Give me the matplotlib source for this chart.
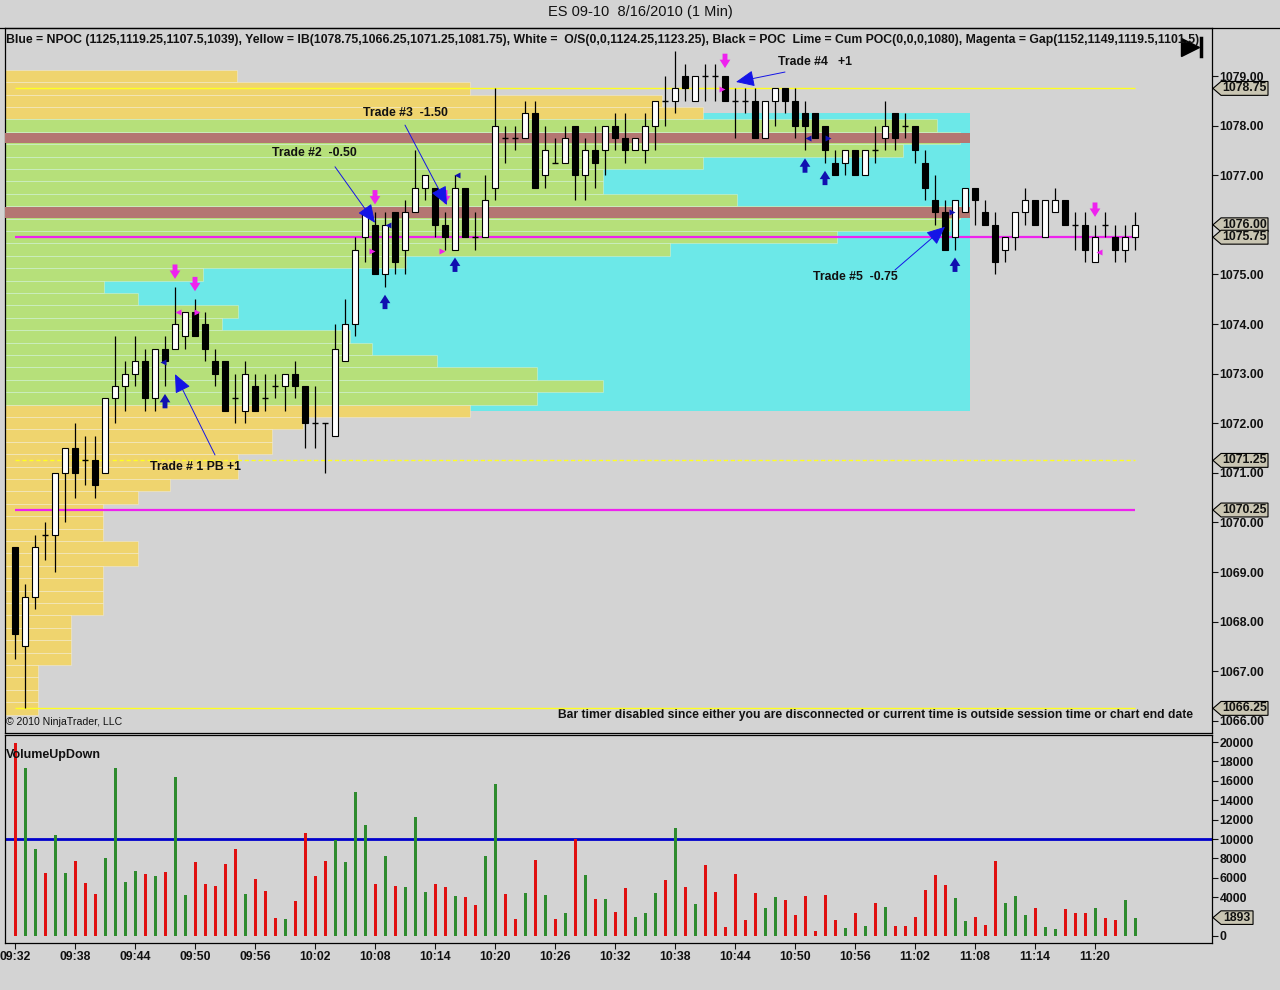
import numpy as np
import pandas as pd
import matplotlib
matplotlib.use("Agg")
import matplotlib.pyplot as plt
from matplotlib.patches import Polygon, Rectangle
from matplotlib.transforms import blended_transform_factory

plt.rcParams['font.family'] = ['Liberation Sans', 'DejaVu Sans']

# ---- 1 minute bars, 09:32 .. 11:24 ----
opens = [1069.5, 1067.5, 1068.5, 1069.75, 1069.75, 1071.0, 1071.5, 1071.25, 1071.25, 1071.0,
         1072.5, 1072.75, 1073.0, 1073.25, 1072.5, 1073.5, 1073.5, 1073.75, 1074.25, 1074.0,
         1073.25, 1073.25, 1072.5, 1072.25, 1072.75, 1072.5, 1072.75, 1072.75, 1073.0, 1072.75,
         1072.0, 1072.0, 1071.75, 1073.25, 1074.0, 1075.75, 1076.0, 1075.0, 1076.25, 1075.5,
         1076.25, 1076.75, 1076.75, 1076.0, 1075.5, 1076.75, 1075.75, 1075.75, 1076.75, 1077.75,
         1077.75, 1077.75, 1078.25, 1077.0, 1077.25, 1077.25, 1078.0, 1077.0, 1077.5, 1077.5,
         1078.0, 1077.75, 1077.5, 1077.5, 1078.0, 1078.5, 1078.5, 1079.0, 1078.5, 1079.0,
         1079.0, 1079.0, 1078.5, 1078.5, 1078.5, 1077.75, 1078.5, 1078.75, 1078.5, 1078.25,
         1078.25, 1078.0, 1077.25, 1077.25, 1077.5, 1077.0, 1077.5, 1077.75, 1078.25, 1078.0,
         1078.0, 1077.25, 1076.5, 1076.25, 1075.75, 1076.25, 1076.75, 1076.25, 1076.0, 1075.5,
         1075.75, 1076.25, 1076.5, 1075.75, 1076.25, 1076.5, 1076.0, 1076.0, 1075.25, 1076.0,
         1075.75, 1075.5, 1075.75]
highs = [1069.5, 1068.75, 1069.75, 1070.0, 1071.0, 1071.5, 1072.0, 1071.75, 1071.75, 1072.5,
         1073.75, 1073.25, 1073.75, 1073.5, 1073.5, 1073.75, 1074.75, 1074.25, 1074.5, 1074.25,
         1073.5, 1073.25, 1073.0, 1073.25, 1073.0, 1073.0, 1073.0, 1073.0, 1073.25, 1072.75,
         1072.75, 1072.0, 1074.0, 1074.5, 1075.75, 1076.25, 1076.25, 1076.25, 1076.25, 1076.5,
         1077.5, 1077.0, 1076.75, 1076.25, 1077.0, 1076.75, 1076.25, 1077.0, 1078.75, 1078.0,
         1078.0, 1078.5, 1078.5, 1078.0, 1077.75, 1078.0, 1078.0, 1077.75, 1078.0, 1078.0,
         1078.25, 1078.25, 1077.75, 1078.25, 1078.5, 1079.0, 1079.5, 1079.25, 1079.0, 1079.25,
         1079.25, 1079.0, 1078.75, 1078.75, 1078.75, 1078.5, 1078.75, 1078.75, 1078.75, 1078.5,
         1078.25, 1078.0, 1077.5, 1077.5, 1077.5, 1077.5, 1078.0, 1078.5, 1078.25, 1078.25,
         1078.0, 1077.5, 1077.0, 1076.5, 1076.5, 1076.75, 1076.75, 1076.5, 1076.25, 1075.75,
         1076.25, 1076.75, 1076.5, 1076.5, 1076.75, 1076.5, 1076.25, 1076.25, 1076.0, 1076.25,
         1076.0, 1076.0, 1076.25]
lows = [1067.25, 1066.25, 1068.25, 1069.25, 1069.0, 1070.0, 1070.5, 1070.75, 1070.5, 1071.0,
        1072.0, 1072.25, 1072.75, 1072.25, 1072.25, 1072.75, 1073.5, 1073.5, 1073.75, 1073.25,
        1072.75, 1072.25, 1072.0, 1072.0, 1072.25, 1072.25, 1072.5, 1072.25, 1072.5, 1071.5,
        1071.5, 1071.0, 1071.75, 1073.25, 1073.75, 1075.25, 1075.0, 1074.75, 1075.0, 1075.0,
        1076.25, 1076.5, 1075.75, 1075.5, 1075.5, 1075.75, 1075.5, 1075.75, 1076.5, 1077.25,
        1077.5, 1077.75, 1076.75, 1076.75, 1077.25, 1077.25, 1076.5, 1076.5, 1076.75, 1077.0,
        1077.5, 1077.25, 1077.5, 1077.25, 1077.5, 1078.0, 1078.25, 1078.5, 1078.5, 1078.5,
        1078.5, 1078.5, 1077.75, 1078.25, 1077.75, 1077.75, 1078.0, 1078.25, 1077.75, 1077.5,
        1077.75, 1077.25, 1077.0, 1077.0, 1077.0, 1077.0, 1077.25, 1077.5, 1077.5, 1077.75,
        1077.25, 1076.5, 1076.0, 1075.5, 1075.5, 1076.25, 1076.0, 1076.0, 1075.0, 1075.25,
        1075.5, 1076.0, 1076.0, 1075.75, 1076.25, 1076.0, 1075.5, 1075.25, 1075.25, 1075.75,
        1075.25, 1075.25, 1075.5]
closes = [1067.75, 1068.5, 1069.5, 1069.75, 1071.0, 1071.5, 1071.0, 1071.25, 1070.75, 1072.5,
          1072.75, 1073.0, 1073.25, 1072.5, 1073.5, 1073.25, 1074.0, 1074.25, 1073.75, 1073.5,
          1073.0, 1072.25, 1072.5, 1073.0, 1072.25, 1072.5, 1072.75, 1073.0, 1072.75, 1072.0,
          1072.0, 1072.0, 1073.5, 1074.0, 1075.5, 1076.25, 1075.0, 1076.0, 1075.25, 1076.25,
          1076.75, 1077.0, 1076.0, 1075.75, 1076.75, 1075.75, 1075.75, 1076.5, 1078.0, 1077.75,
          1077.75, 1078.25, 1076.75, 1077.5, 1077.25, 1077.75, 1077.0, 1077.5, 1077.25, 1078.0,
          1077.75, 1077.5, 1077.75, 1078.0, 1078.5, 1078.5, 1078.75, 1078.75, 1079.0, 1079.0,
          1079.0, 1078.5, 1078.5, 1078.5, 1077.75, 1078.5, 1078.75, 1078.5, 1078.0, 1078.0,
          1077.75, 1077.5, 1077.0, 1077.5, 1077.0, 1077.5, 1077.5, 1078.0, 1077.75, 1078.0,
          1077.5, 1076.75, 1076.25, 1075.5, 1076.5, 1076.75, 1076.5, 1076.0, 1075.25, 1075.75,
          1076.25, 1076.5, 1076.0, 1076.5, 1076.5, 1076.0, 1076.0, 1075.5, 1075.75, 1076.0,
          1075.5, 1075.75, 1076.0]
volumes = [19900, 17300, 8970, 6500, 10400, 6500, 7770, 5500, 4360, 8040,
           17300, 5570, 6700, 6390, 6190, 6630, 16430, 4230, 7660, 5360,
           5150, 7420, 8970, 4330, 5880, 4670, 1890, 1790, 3640, 10620,
           6190, 7770, 9930, 7660, 14850, 11480, 5360, 8250, 5150, 5050,
           12300, 4540, 5360, 5050, 4120, 4020, 3200, 8250, 15670, 4330,
           1790, 4430, 7870, 4230, 1790, 2340, 10000, 6290, 3810, 3810,
           2480, 4960, 1970, 2380, 4450, 5790, 11170, 5070, 3310, 7340,
           4550, 930, 6410, 1660, 4450, 2900, 4030, 3720, 2170, 4140,
           520, 4240, 1660, 830, 2380, 1030, 3410, 3000, 1030, 1030,
           1970, 4760, 6310, 5280, 3930, 1550, 1970, 1140, 7760, 3410,
           4140, 2170, 2900, 930, 720, 2790, 2380, 2380, 2900, 1860,
           1660, 3720, 1893]

# ---- session volume profile (price level, length in bar widths) ----
profile_prices = [1079.0, 1078.75, 1078.5, 1078.25, 1078.0, 1077.75, 1077.5, 1077.25, 1077.0, 1076.75,
                  1076.5, 1076.25, 1076.0, 1075.75, 1075.5, 1075.25, 1075.0, 1074.75, 1074.5, 1074.25,
                  1074.0, 1073.75, 1073.5, 1073.25, 1073.0, 1072.75, 1072.5, 1072.25, 1072.0, 1071.75,
                  1071.5, 1071.25, 1071.0, 1070.75, 1070.5, 1070.25, 1070.0, 1069.75, 1069.5, 1069.25,
                  1069.0, 1068.75, 1068.5, 1068.25, 1068.0, 1067.75, 1067.5, 1067.25, 1067.0, 1066.75,
                  1066.5, 1066.25]
profile_len = [23.2, 46.5, 65.7, 69.8, 93.2, 95.5, 89.8, 69.8, 59.8, 59.8,
               73.2, 95.5, 94.5, 83.2, 66.5, 40.1, 19.8, 9.9, 13.3, 23.3,
               21.7, 34.5, 36.7, 43.2, 53.2, 59.8, 53.2, 46.5, 29.8, 26.7,
               26.7, 23.3, 23.3, 16.5, 13.3, 9.8, 9.8, 9.8, 13.3, 13.3,
               9.8, 9.8, 9.8, 9.8, 6.6, 6.6, 6.6, 6.6, 3.3, 3.3,
               3.3, 3.3]
value_area = (1072.5, 1078.0)
prior_zone = (1072.25, 1078.25)      # cyan box
poc_levels = [1077.75, 1076.25]
zone_end_bar = 95.5

ib_levels = [1078.75, 1071.25, 1066.25]   # high, mid, low
gap_levels = [1075.75, 1070.25]
vol_ref = 10000

# trade signals
sell_bars = [16, 18, 36, 43, 71, 108]
buy_bars = [15, 37, 44, 79, 81, 94]
mag_tri = [(16.3, 1074.24, '<'), (18.2, 1074.24, '>'), (35.7, 1075.47, '>'),
           (42.7, 1075.47, '>'), (70.7, 1078.74, '>'), (108.4, 1075.45, '<')]
blue_tri = [(14.8, 1073.23, '<'), (37.3, 1076.0, '<'), (44.2, 1077.0, '<'),
            (79.3, 1077.75, '<'), (81.3, 1077.75, '>'), (93.7, 1076.25, '>')]

trade_labels = ["Trade # 1 PB +1", "Trade #2  -0.50", "Trade #3  -1.50", "Trade #4   +1", "Trade #5  -0.75"]
trade_text_at = [(18.0, 1071.12), (29.9, 1077.45), (39.0, 1078.25), (80.0, 1079.28), (84.0, 1074.95)]
trade_from = [(20.0, 1071.36), (32.0, 1077.17), (39.0, 1078.01), (77.0, 1079.08), (88.0, 1075.09)]
trade_tip = [(16.0, 1072.99), (36.0, 1076.04), (43.2, 1076.40), (72.1, 1078.88), (93.0, 1075.96)]

times = pd.date_range("2010-08-16 09:32", periods=len(closes), freq="min")

BG = '#D3D3D3'
YEL = '#EFD46E'
GRN = '#B6E07A'
CYAN = '#6CE8E8'
BROWN = '#B47672'
MAG = '#EE22EE'
BOLD = dict(fontweight='bold', color='#111111')
ARROW = 'simple,head_length=0.55,head_width=0.7,tail_width=0.32'

fig = plt.figure(figsize=(12.8, 9.9), dpi=100, facecolor=BG)
ax = fig.add_axes([5 / 1280, 257 / 990, 1207 / 1280, 705 / 990], facecolor=BG)
axv = fig.add_axes([5 / 1280, 47 / 990, 1207 / 1280, 208 / 990], facecolor=BG)

x = np.arange(len(closes))
o = np.array(opens); h = np.array(highs); l = np.array(lows); c = np.array(closes)

# profile background
ax.add_patch(Rectangle((-1, prior_zone[0]), zone_end_bar + 1, prior_zone[1] - prior_zone[0],
                       fc=CYAN, ec='none', zorder=1))
pp = np.array(profile_prices)
in_va = (pp >= value_area[0]) & (pp <= value_area[1])
ax.barh(pp, profile_len, height=0.25, left=-1, color=np.where(in_va, GRN, YEL),
        edgecolor=(1, 1, 1, 0.35), linewidth=0.6, zorder=2)
for p in poc_levels:
    ax.add_patch(Rectangle((-1, p - 0.11), zone_end_bar + 1, 0.22, fc=BROWN, ec='none', zorder=3))

# reference lines
ax.hlines([ib_levels[0], ib_levels[2]], x[0], x[-1], color='#FFFF22', lw=1.0, zorder=4)
ax.hlines(ib_levels[1], x[0], x[-1], color='#FFFF22', lw=1.0, ls=(0, (3, 2)), zorder=4)
ax.hlines(gap_levels, x[0], x[-1], color=MAG, lw=1.6, zorder=4)

# candles
ax.vlines(x, l, h, color='black', lw=0.9, zorder=5)
body = c != o
ax.bar(x[body], np.abs(c - o)[body], bottom=np.minimum(o, c)[body], width=0.55,
       color=np.where(c > o, 'white', 'black')[body], edgecolor='black', linewidth=0.8, zorder=6)
ax.hlines(o[~body], x[~body] - 0.3, x[~body] + 0.3, color='black', lw=1.0, zorder=6)

# signal arrows
for b in sell_bars:
    ax.annotate('', xy=(b, h[b] + 0.16), xytext=(b, h[b] + 0.45), zorder=7,
                arrowprops=dict(arrowstyle=ARROW, fc=MAG, ec='none', mutation_scale=11,
                                shrinkA=0, shrinkB=0))
for b in buy_bars:
    ax.annotate('', xy=(b, l[b] - 0.16), xytext=(b, l[b] - 0.45), zorder=7,
                arrowprops=dict(arrowstyle=ARROW, fc='#1010B0', ec='none', mutation_scale=11,
                                shrinkA=0, shrinkB=0))
for tx, ty, m in mag_tri:
    ax.plot(tx, ty, marker=m, ms=4.5, color=MAG, mec='none', zorder=7)
for tx, ty, m in blue_tri:
    ax.plot(tx, ty, marker=m, ms=4.5, color='#1010B0', mec='none', zorder=7)

# trade annotations
for lab, tpos, start, tip in zip(trade_labels, trade_text_at, trade_from, trade_tip):
    ax.text(tpos[0], tpos[1], lab, ha='center', va='center', fontsize=8.8, zorder=8, **BOLD)
    ax.annotate('', xy=tip, xytext=start, zorder=8,
                arrowprops=dict(arrowstyle='-|>,head_length=0.95,head_width=0.42', color='#1414E6',
                                lw=0.7, mutation_scale=12, shrinkA=0, shrinkB=0))

# price tags on the right axis
tag_prices = [ib_levels[0], closes[-1], gap_levels[0], ib_levels[1], gap_levels[1], ib_levels[2]]

ax.set_xlim(-1, 119.7)
ax.set_ylim(1065.754, 1079.968)
ax.set_xticks([])
ax.yaxis.tick_right()
pticks = np.arange(1066, 1080, 1.0)
ax.set_yticks(pticks)
# a tick label sitting under a tag is hidden by it
ax.set_yticklabels(["" if v in tag_prices else f"{v:.2f}" for v in pticks], fontsize=8.8, fontweight='bold')
ax.tick_params(axis='y', direction='out', length=4, width=0.8, pad=1.5, colors='#111111')
for s in ax.spines.values():
    s.set_linewidth(0.9)

bt = blended_transform_factory(ax.transAxes, ax.transData)
for p in tag_prices:
    hh = 0.14
    ax.add_patch(Polygon([(1.0008, p), (1.0075, p + hh), (1.0464, p + hh), (1.0464, p - hh), (1.0075, p - hh)],
                         closed=True, transform=bt, fc='#C9C5B2', ec='black', lw=0.8, clip_on=False, zorder=10))
    ax.text(1.0269, p, f"{p:.2f}", transform=bt, ha='center', va='center', fontsize=8.8,
            clip_on=False, zorder=11, **BOLD)

ax.text(0.001, 0.011, "\u00a9 2010 NinjaTrader, LLC", transform=ax.transAxes, fontsize=7.6, color='#111111')
ax.text(0.984, 0.021, "Bar timer disabled since either you are disconnected or current time is outside session time or chart end date",
        transform=ax.transAxes, ha='right', fontsize=8.7, **BOLD)

# play/end icon
ax.plot(0.9818, 0.973, marker='>', ms=13, color='black', transform=ax.transAxes, clip_on=False, zorder=12)
ax.plot([0.991, 0.991], [0.960, 0.986], color='black', lw=2.5, transform=ax.transAxes, clip_on=False, zorder=12)

# volume panel
vcol = np.where(c > o, '#2E8B2E', '#E01010')
axv.bar(x, volumes, width=0.3, color=vcol, zorder=3)
axv.axhline(vol_ref, color='#0000CC', lw=2.0, zorder=2)
axv.set_xlim(-1, 119.7)
axv.set_ylim(-722, 20722)
axv.yaxis.tick_right()
vticks = list(range(0, 20001, 2000))
vlast = volumes[-1]
axv.set_yticks(vticks)
axv.set_yticklabels(["" if abs(v - vlast) < 1000 else str(v) for v in vticks], fontsize=8.8, fontweight='bold')
axv.tick_params(axis='y', direction='out', length=4, width=0.8, pad=1.5, colors='#111111')
ticks = x[::6]
axv.set_xticks(ticks)
axv.set_xticklabels([t.strftime('%H:%M') for t in times[::6]], fontsize=8.8, fontweight='bold')
axv.tick_params(axis='x', direction='out', length=4, width=0.8, pad=2, colors='#111111')
for s in axv.spines.values():
    s.set_linewidth(0.9)
axv.text(0.001, 0.89, "VolumeUpDown", transform=axv.transAxes, fontsize=9, **BOLD)

bv = blended_transform_factory(axv.transAxes, axv.transData)
hv = 700
axv.add_patch(Polygon([(1.0008, vlast), (1.0075, vlast + hv), (1.0340, vlast + hv), (1.0340, vlast - hv), (1.0075, vlast - hv)],
                      closed=True, transform=bv, fc='#C9C5B2', ec='black', lw=0.8, clip_on=False, zorder=10))
axv.text(1.0208, vlast, str(vlast), transform=bv, ha='center', va='center', fontsize=8.8,
         clip_on=False, zorder=11, **BOLD)

# header
fig.text(0.5, 1 - 12 / 990, "ES 09-10  8/16/2010 (1 Min)", ha='center', va='center', fontsize=10.5, color='#111111')
fig.text(6 / 1280, 1 - 40 / 990,
         "Blue = NPOC (1125,1119.25,1107.5,1039), Yellow = IB(1078.75,1066.25,1071.25,1081.75), White =  O/S(0,0,1124.25,1123.25), "
         "Black = POC  Lime = Cum POC(0,0,0,1080), Magenta = Gap(1152,1149,1119.5,1101.5)",
         ha='left', va='center', fontsize=8.8, **BOLD)
fig.add_artist(plt.Line2D([0, 1], [1 - 28 / 990, 1 - 28 / 990], color='black', lw=0.9))

fig.savefig("out.png", dpi=100, facecolor=BG)
